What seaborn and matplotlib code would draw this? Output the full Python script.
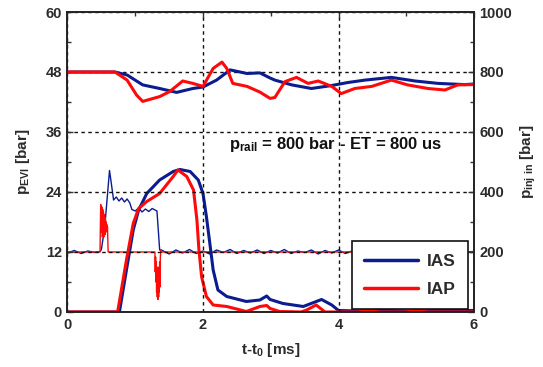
import numpy as np
import pandas as pd
import matplotlib
matplotlib.use("Agg")
import matplotlib.pyplot as plt
from matplotlib.ticker import MultipleLocator
import seaborn as sns

# ---------------- data ----------------
# upper traces: injector inlet pressure [bar] (right axis)
ias_rail_t = [0, 0.7, 0.88, 1.11, 1.36, 1.61, 1.85, 2.0, 2.2, 2.4, 2.65, 2.84, 2.99, 3.06, 3.31,
              3.6, 3.9, 4.14, 4.39, 4.78, 5.13, 5.47, 5.86, 6.0]
ias_rail = [800, 800, 790, 757, 745, 732, 745, 750, 773, 807, 795, 797, 780, 773, 757,
            745, 755, 765, 773, 782, 770, 762, 758, 760]
iap_rail_t = [0, 0.7, 0.88, 1.02, 1.11, 1.36, 1.51, 1.7, 1.85, 2.0, 2.15, 2.28, 2.35, 2.44, 2.65,
              2.84, 2.99, 3.06, 3.21, 3.38, 3.55, 3.7, 3.9, 4.04, 4.24, 4.49, 4.78, 5.02, 5.32,
              5.57, 5.76, 6.0]
iap_rail = [800, 800, 773, 723, 702, 718, 735, 770, 762, 752, 812, 833, 812, 762, 752,
            733, 712, 715, 768, 782, 762, 770, 752, 728, 745, 752, 773, 757, 745,
            740, 757, 758]

# lower traces: p_EVI [bar] (left axis)
ias_evi_t = [0, 0.75, 0.77, 0.87, 0.97, 1.05, 1.17, 1.36, 1.56, 1.66, 1.81, 1.93, 2.0, 2.05, 2.1,
             2.15, 2.22, 2.35, 2.64, 2.84, 2.94, 2.99, 3.18, 3.48, 3.75, 3.9, 4.0, 4.3, 4.6,
             5.0, 5.5, 6.0]
ias_evi = [0, 0, 0.3, 8.4, 16.4, 20.4, 23.7, 26.4, 28.1, 28.5, 28.1, 26.4, 23.7, 19.1, 13.8,
           8.4, 4.4, 3.1, 2.1, 2.4, 3.2, 2.5, 1.7, 1.1, 2.5, 1.4, 0.3, 0.2, 0.4,
           0.2, 0.3, 0.3]
iap_evi_t = [0, 0.74, 0.87, 0.97, 1.05, 1.17, 1.36, 1.56, 1.63, 1.76, 1.86, 1.91, 1.94, 1.98, 2.05,
             2.15, 2.35, 2.64, 2.84, 2.94, 2.99, 3.13, 3.45, 3.53, 3.67, 3.8, 4.3, 4.45, 4.6,
             5.0, 5.15, 5.3, 6.0]
iap_evi = [0, 0, 10.4, 17.7, 20.7, 22.1, 23.7, 27.1, 28.4, 27.1, 24.4, 18.4, 12.4, 7.0, 3.1,
           1.4, 1.1, 0.1, 1.1, 1.3, 0.7, 0.1, 0.0, 0.4, 1.4, 0.0, 0.0, 0.4, 0.0,
           0.0, 0.4, 0.0, 0.0]

# signal traces around 12 (left axis)
ias_sig_t = [0, 0.1, 0.2, 0.3, 0.4, 0.48, 0.5, 0.55, 0.62, 0.64, 0.68, 0.72, 0.76, 0.8, 0.84,
             0.88, 0.92, 0.95, 1.0, 1.05, 1.1, 1.15, 1.2, 1.25, 1.32, 1.34, 1.36,
             1.4, 1.5, 1.6, 1.7, 1.8, 1.9, 2.0, 2.1, 2.2, 2.3, 2.4, 2.5, 2.6, 2.7, 2.8, 2.9,
             3.0, 3.1, 3.2, 3.3, 3.4, 3.5, 3.6, 3.7, 3.8, 3.9, 4.0, 4.1, 4.2, 4.3, 4.4, 4.5,
             4.6, 4.7, 4.8, 4.9, 5.0, 5.1, 5.2, 5.3, 5.4, 5.5, 5.6, 5.7, 5.8, 5.9, 6.0]
ias_sig = [11.8, 12.3, 11.7, 12.2, 11.9, 12.1, 12.5, 17.0, 28.3, 26.4, 22.4, 23.0, 22.2, 22.8, 22.0,
           22.6, 21.8, 20.5, 20.2, 20.8, 20.0, 20.6, 20.1, 20.7, 20.2, 16.4, 12.4,
           12.3, 11.6, 12.4, 11.8, 12.5, 11.7, 12.2, 11.6, 12.4, 11.9, 12.5, 11.7, 12.3, 11.8,
           12.4, 11.7, 12.3, 11.8, 12.5, 11.7, 12.2, 11.9, 12.4, 11.6, 12.3, 11.8, 12.4, 11.7,
           12.2, 11.8, 12.4, 11.7, 12.3, 11.9, 12.5, 11.8, 12.2, 11.7, 12.4, 11.9, 12.3, 11.7,
           12.2, 11.8, 12.4, 12.0, 12.1]
iap_sig_t = [0, 0.48, 0.49, 0.5, 0.505, 0.51, 0.515, 0.52, 0.525, 0.53, 0.535, 0.54, 0.545, 0.55,
             0.555, 0.56, 0.565, 0.57, 0.575, 0.58, 0.585, 0.59, 0.6, 0.61, 1.28, 1.29, 1.295,
             1.3, 1.305, 1.31, 1.315, 1.32, 1.325, 1.33, 1.335, 1.34, 1.345, 1.35, 1.355, 1.36,
             1.365, 1.37, 1.38, 1.39, 1.4, 6.0]
iap_sig = [12, 12, 21.5, 20.5, 16, 21, 15, 20.5, 15.5, 20, 15, 19.5, 16, 19,
           15.5, 18.5, 16, 18, 16.5, 17.5, 16, 17, 12, 12, 12, 12, 8,
           11, 6, 10, 4, 9, 3, 8, 2.5, 7, 3, 9, 4, 10,
           5, 11, 12.5, 12, 12, 12]

series_names = ["IAS", "IAP"]
annotation = "= 800 bar - ET = 800 us"

# ---------------- style ----------------
sns.set_theme(style="white")
plt.rcParams["font.family"] = ["Liberation Sans", "DejaVu Sans"]
plt.rcParams["mathtext.fontset"] = "custom"
plt.rcParams["mathtext.rm"] = "Liberation Sans:bold"
plt.rcParams["mathtext.bf"] = "Liberation Sans:bold"
plt.rcParams["mathtext.default"] = "bf"

BLUE = "#0b1c8f"
RED = "#ff0a0a"
TXT = "#2b2b2b"

fig = plt.figure(figsize=(5.43, 3.67), dpi=100)
ax = fig.add_axes([0.1243, 0.1499, 0.7487, 0.8174])
ax2 = ax.twinx()

# lower axis content
sns.lineplot(x=ias_sig_t, y=ias_sig, ax=ax, color=BLUE, lw=1.0, estimator=None, sort=False)
sns.lineplot(x=iap_sig_t, y=iap_sig, ax=ax, color=RED, lw=1.0, estimator=None, sort=False)
sns.lineplot(x=ias_evi_t, y=ias_evi, ax=ax, color=BLUE, lw=2.2, estimator=None, sort=False,
             label=series_names[0])
sns.lineplot(x=iap_evi_t, y=iap_evi, ax=ax, color=RED, lw=2.2, estimator=None, sort=False,
             label=series_names[1])
# upper traces on right axis
sns.lineplot(x=ias_rail_t, y=ias_rail, ax=ax2, color=BLUE, lw=2.2, estimator=None, sort=False)
sns.lineplot(x=iap_rail_t, y=iap_rail, ax=ax2, color=RED, lw=2.2, estimator=None, sort=False)

handles, labels = ax.get_legend_handles_labels()
if ax.get_legend() is not None:
    ax.get_legend().remove()

ax.set_xlim(0, 6)
ax.set_ylim(0, 60)
ax2.set_ylim(0, 1000)

ax.xaxis.set_major_locator(MultipleLocator(2))
ax.xaxis.set_minor_locator(MultipleLocator(1))
ax.yaxis.set_major_locator(MultipleLocator(12))
ax.yaxis.set_minor_locator(MultipleLocator(6))
ax2.yaxis.set_major_locator(MultipleLocator(200))
ax2.yaxis.set_minor_locator(MultipleLocator(100))

for a in (ax, ax2):
    a.tick_params(which="both", direction="in", colors="#333333", labelcolor=TXT,
                  labelsize=10.5, pad=4)
    a.tick_params(which="major", length=4, width=1)
    a.tick_params(which="minor", length=3, width=1)
    for lab in a.get_xticklabels() + a.get_yticklabels():
        lab.set_fontweight("bold")
    for s in a.spines.values():
        s.set_color("#222222")
        s.set_linewidth(1.2)
ax.tick_params(axis="x", which="both", top=True)
ax.tick_params(axis="y", which="both", left=True, right=False)
ax2.tick_params(axis="y", which="both", right=True, left=False)

ax.grid(True, which="major", color="#111111", lw=1.0, ls=(0, (2.5, 2.5)))
ax2.grid(False)
ax.set_axisbelow(False)

ax.set_xlabel(r"t-t$_{0}$ [ms]", fontsize=11, fontweight="bold", color=TXT, labelpad=7)
ax.set_ylabel(r"p$_{\rm EVI}$ [bar]", fontsize=11, fontweight="bold", color=TXT, labelpad=10)
ax2.set_ylabel(r"p$_{\rm inj\ in}$ [bar]", fontsize=11, fontweight="bold", color=TXT,
               rotation=90)
ax2.yaxis.set_label_coords(1.11, 0.5)

ax.text(3.96, 33.4, r"p$_{\rm rail}$ " + annotation, ha="center", va="center",
        fontsize=12, fontweight="bold", color="#111111")

leg = ax2.legend(handles, labels, loc="lower right", bbox_to_anchor=(0.985, 0.01),
                 borderaxespad=0, frameon=True, fancybox=False,
                 handlelength=3.1, handletextpad=0.5, borderpad=0.7, labelspacing=0.75,
                 prop={"weight": "bold", "size": 12.5})
leg.get_frame().set_edgecolor("#111111")
leg.get_frame().set_linewidth(1.2)
leg.get_frame().set_facecolor("white")
leg.get_frame().set_alpha(1)
for line in leg.get_lines():
    line.set_linewidth(2.5)
for t in leg.get_texts():
    t.set_color(TXT)

fig.savefig("out.png", dpi=100, facecolor="white")
